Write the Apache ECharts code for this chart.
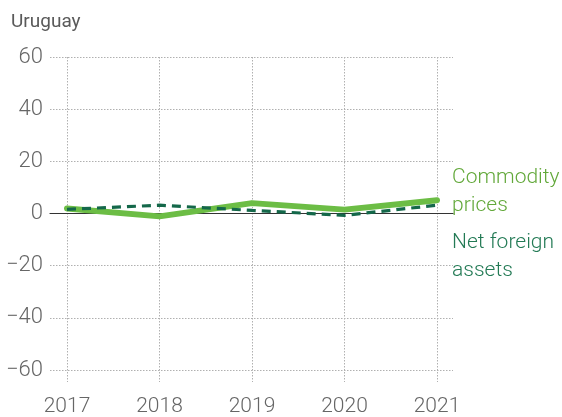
<!DOCTYPE html>
<html>
<head>
<meta charset="utf-8">
<script src="https://cdn.jsdelivr.net/npm/echarts@6/dist/echarts.min.js"></script>
<style>
  html, body { margin: 0; padding: 0; background: #fff; }
  #chart { width: 562px; height: 417px; }
</style>
</head>
<body>
<div id="chart"></div>
<script>
// data
const years = ['2017', '2018', '2019', '2020', '2021'];
const commodityPrices = [1.7, -1.3, 3.8, 1.3, 4.9];
const netForeignAssets = [1.4, 3.0, 1.0, -0.9, 3.0];
const yTicks = [-60, -40, -20, 0, 20, 40, 60];

const font = "Roboto";
const grey = '#666';
const dotted = { color: '#b0b0b0', type: [1.5, 1.5] };

const chart = echarts.init(document.getElementById('chart'));

const option = {
    animation: false,
    title: {
        text: 'Uruguay',
        left: 6,
        top: 8,
        textStyle: { fontFamily: font, fontWeight: 'normal', fontSize: 19, color: '#5a5a5a' }
    },
    grid: [
        // wide grid: horizontal gridlines + zero line + y labels
        { left: 50, right: 109, top: 57, bottom: 47 },
        // data grid
        { left: 67, right: 125, top: 57, bottom: 47 }
    ],
    xAxis: [
        {
            gridIndex: 0, type: 'value', min: 0, max: 1,
            axisLine: { show: true, onZero: true, lineStyle: { color: '#333', width: 1.2 } },
            axisTick: { show: false }, axisLabel: { show: false }, splitLine: { show: false }
        },
        {
            gridIndex: 1, type: 'category', data: years, boundaryGap: false,
            axisLine: { show: false, onZero: false },
            axisTick: { show: true, length: 13, lineStyle: dotted },
            axisLabel: { margin: 27, fontFamily: font, fontWeight: 300, fontSize: 21, color: grey },
            splitLine: { show: true, lineStyle: dotted }
        }
    ],
    yAxis: [
        {
            gridIndex: 0, type: 'value', min: -60, max: 60, interval: 20,
            axisLine: { show: false }, axisTick: { show: false },
            axisLabel: {
                margin: 7, fontFamily: font, fontWeight: 300, fontSize: 22, color: grey,
                formatter: v => yTicks.includes(v) ? String(v).replace('-', '\u2212') : ''
            },
            splitLine: { show: true, lineStyle: dotted }
        },
        {
            gridIndex: 1, type: 'value', min: -60, max: 60, interval: 20,
            axisLine: { show: false }, axisTick: { show: false },
            axisLabel: { show: false }, splitLine: { show: false }
        }
    ],
    series: [
        {
            name: 'Commodity prices', type: 'line', xAxisIndex: 1, yAxisIndex: 1,
            data: commodityPrices, symbol: 'none',
            lineStyle: { color: '#6cbd45', width: 6, cap: 'round', join: 'round' }
        },
        {
            name: 'Net foreign assets', type: 'line', xAxisIndex: 1, yAxisIndex: 1,
            data: netForeignAssets, symbol: 'none',
            lineStyle: { color: '#14684a', width: 3.2, type: [9, 6] }
        }
    ],
    graphic: [
        {
            type: 'text', left: 452, top: 164,
            style: { text: 'Commodity\nprices', fontFamily: font, fontWeight: 300, fontSize: 21, lineHeight: 28, fill: '#62a83a' }
        },
        {
            type: 'text', left: 452, top: 229,
            style: { text: 'Net foreign\nassets', fontFamily: font, fontWeight: 300, fontSize: 21, lineHeight: 28, fill: '#237a55' }
        }
    ]
};

chart.setOption(option);
</script>
</body>
</html>
